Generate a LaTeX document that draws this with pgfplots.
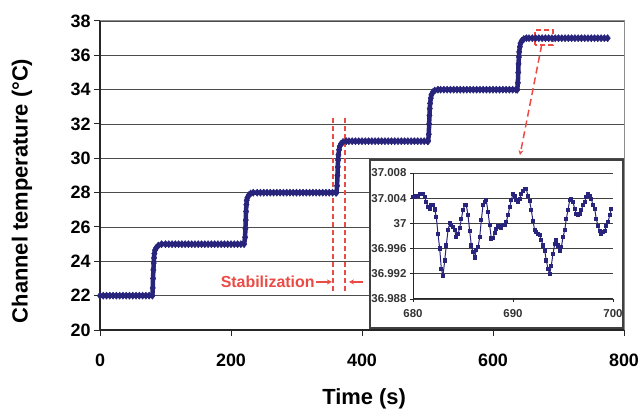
\documentclass[border=0pt]{standalone}
\usepackage{pgfplots}
\pgfplotsset{compat=1.18}
\usepackage{fontspec}
\setmainfont{Liberation Sans}
\usetikzlibrary{arrows.meta}
\definecolor{navy}{RGB}{40,36,124}
\definecolor{redc}{RGB}{235,75,68}
\begin{document}
\begin{tikzpicture}
\begin{axis}[
  at={(100bp,81bp)}, anchor=south west,
  scale only axis, width=524bp, height=309bp,
  xmin=0, xmax=800, ymin=20, ymax=38,
  xtick={0,200,400,600,800}, ytick={20,22,...,38},
  axis x line*=bottom, axis y line*=left,
  tick align=outside, major tick length=6bp,
  ymajorgrids, grid style={black!70, line width=0.9bp},
  tick style={black!85, line width=1bp},
  axis line style={black!85, line width=1.2bp},
  /pgf/number format/assume math mode=true,
  ticklabel style={font=\fontsize{18}{18}\selectfont\bfseries},
  xticklabel style={yshift=-14bp},
  xlabel={Time (s)}, ylabel={Channel temperature (°C)},
  xlabel style={at={(axis description cs:0.504,-0.223)}, anchor=center, font=\fontsize{22}{22}\selectfont\bfseries},
  ylabel style={at={(axis description cs:-0.149,0.45)}, anchor=center, font=\fontsize{22}{22}\selectfont\bfseries},
  clip=false,
]
\addplot[color=navy, line width=4.5bp, line join=round, mark=diamond*, mark size=3.6bp, mark options={solid, line width=0.5bp}] coordinates {
(0,22)(5,22)(10,22)(15,22)(20,22)(25,22)(30,22)(35,22)(40,22)(45,22)(50,22)(55,22)(60,22)(65,22)(70,22)(75,22)(80,22)
(80.5,22.45)(81,23.0)(81.5,23.5)(82,23.9)(82.5,24.2)(83,24.45)(84,24.65)(86,24.8)(89,24.92)(94,25)
(100,25)(105,25)(110,25)(115,25)(120,25)(125,25)(130,25)(135,25)(140,25)(145,25)(150,25)(155,25)(160,25)(165,25)(170,25)(175,25)(180,25)(185,25)(190,25)(195,25)(200,25)(205,25)(210,25)(215,25)(220,25)
(221.5,25.4)(222,25.9)(222.5,26.4)(223,26.9)(223.5,27.3)(224,27.55)(225,27.7)(227,27.85)(230,27.95)(234,28)
(240,28)(245,28)(250,28)(255,28)(260,28)(265,28)(270,28)(275,28)(280,28)(285,28)(290,28)(295,28)(300,28)(305,28)(310,28)(315,28)(320,28)(325,28)(330,28)(335,28)(340,28)(345,28)(350,28)(355,28)(360,28)(361,28)
(362,28.4)(362.5,29.0)(363,29.5)(363.5,29.9)(364,30.2)(365,30.5)(366,30.7)(368,30.85)(371,30.95)(376,31)
(380,31)(385,31)(390,31)(395,31)(400,31)(405,31)(410,31)(415,31)(420,31)(425,31)(430,31)(435,31)(440,31)(445,31)(450,31)(455,31)(460,31)(465,31)(470,31)(475,31)(480,31)(485,31)(490,31)(495,31)(500,31)(501,31)
(502,31.4)(502.5,32.0)(503,32.5)(503.5,32.9)(504,33.2)(505,33.5)(506,33.7)(508,33.85)(511,33.95)(516,34)
(520,34)(525,34)(530,34)(535,34)(540,34)(545,34)(550,34)(555,34)(560,34)(565,34)(570,34)(575,34)(580,34)(585,34)(590,34)(595,34)(600,34)(605,34)(610,34)(615,34)(620,34)(625,34)(630,34)(635,34)(637,34)
(638,34.4)(638.5,35.0)(639,35.5)(639.5,35.9)(640,36.2)(641,36.5)(642,36.7)(644,36.85)(647,36.95)(651,37)
(655,37)(660,37)(665,37)(670,37)(675,37)(680,37)(685,37)(690,37)(695,37)(700,37)(705,37)(710,37)(715,37)(720,37)(725,37)(730,37)(735,37)(740,37)(745,37)(750,37)(755,37)(760,37)(765,37)(770,37)(775,37)
};
\draw[black!45, line width=1bp] (axis cs:0,38) -- (axis cs:800,38) -- (axis cs:800,20);
% annotations
\draw[redc, line width=1.5bp, dash pattern=on 5bp off 3bp] (axis cs:356,32.35) -- (axis cs:356,22.16);
\draw[redc, line width=1.5bp, dash pattern=on 5bp off 3bp] (axis cs:374,32.35) -- (axis cs:374,22.16);
\node[anchor=east, text=redc, font=\fontsize{16}{16}\selectfont\bfseries, inner sep=0] at (axis cs:328,22.8) {Stabilization};
\draw[redc, line width=1.3bp, -{Stealth[length=5bp,width=5bp]}] (axis cs:330,22.8) -- (axis cs:354,22.8);
\draw[redc, line width=1.3bp, -{Stealth[length=5bp,width=5bp]}] (axis cs:401,22.8) -- (axis cs:380,22.8);
\draw[redc, line width=1.3bp, dash pattern=on 5bp off 3bp] (axis cs:664,36.6) rectangle (axis cs:691.6,37.48);
\draw[redc, line width=1.5bp, dash pattern=on 7bp off 4bp, -{Stealth[length=5bp,width=5bp]}] (axis cs:674.3,36.6) -- (axis cs:641.2,30.19);
\end{axis}
\draw[line width=1.5bp, draw=black!75, fill=white] (370bp,83bp) rectangle (623bp,251bp);
\begin{axis}[
  at={(413bp,112bp)}, anchor=south west,
  scale only axis, width=200bp, height=126bp,
  xmin=680, xmax=700, ymin=36.988, ymax=37.008,
  xtick={680,690,700}, xticklabels={680,690,700},
  ytick={36.988,36.992,36.996,37,37.004,37.008},
  yticklabels={36.988,36.992,36.996,37,37.004,37.008},
  axis x line*=bottom, axis y line*=left,
  tick align=outside, major tick length=3bp,
  ymajorgrids, grid style={black!75, line width=0.8bp},
  tick style={black!85, line width=0.8bp},
  axis line style={black!85, line width=1bp},
  /pgf/number format/assume math mode=true,
  ticklabel style={font=\fontsize{11.5}{11.5}\selectfont\bfseries, text=black!80},
  xticklabel style={yshift=-4bp},
  clip=false,
]
\addplot[color=navy, line width=1bp, mark=square*, mark size=1.6bp, mark options={solid}] coordinates {
(680.00,37.0042)(680.17,37.0042)(680.33,37.0043)(680.50,37.0044)(680.67,37.0047)(680.83,37.0047)
(681.00,37.0047)(681.17,37.0042)(681.33,37.0034)(681.50,37.0026)(681.67,37.0023)(681.83,37.0029)
(682.00,37.0029)(682.17,37.0022)(682.33,37.0010)(682.50,36.9983)(682.67,36.9960)(682.83,36.9928)
(683.00,36.9917)(683.17,36.9941)(683.33,36.9965)(683.50,36.9989)(683.67,37.0000)(683.83,36.9998)
(684.00,36.9994)(684.17,36.9989)(684.33,36.9978)(684.50,36.9983)(684.67,36.9993)(684.83,37.0007)
(685.00,37.0021)(685.17,37.0029)(685.33,37.0029)(685.50,37.0013)(685.67,36.9988)(685.83,36.9965)
(686.00,36.9954)(686.17,36.9946)(686.33,36.9958)(686.50,36.9962)(686.67,36.9978)(686.83,37.0005)
(687.00,37.0029)(687.17,37.0034)(687.33,37.0037)(687.50,37.0018)(687.67,36.9997)(687.83,36.9976)
(688.00,36.9977)(688.17,36.9985)(688.33,36.9991)(688.50,36.9995)(688.67,36.9995)(688.83,36.9993)
(689.00,36.9997)(689.17,36.9998)(689.33,37.0002)(689.50,37.0013)(689.67,37.0026)(689.83,37.0037)
(690.00,37.0047)(690.17,37.0044)(690.33,37.0037)(690.50,37.0034)(690.67,37.0039)(690.83,37.0047)
(691.00,37.0051)(691.17,37.0055)(691.33,37.0054)(691.50,37.0044)(691.67,37.0035)(691.83,37.0021)
(692.00,37.0004)(692.17,36.9989)(692.33,36.9986)(692.50,36.9983)(692.67,36.9981)(692.83,36.9974)
(693.00,36.9965)(693.17,36.9957)(693.33,36.9941)(693.50,36.9928)(693.67,36.9920)(693.83,36.9933)
(694.00,36.9952)(694.17,36.9967)(694.33,36.9973)(694.50,36.9965)(694.67,36.9957)(694.83,36.9962)
(695.00,36.9978)(695.17,36.9989)(695.33,37.0007)(695.50,37.0021)(695.67,37.0037)(695.83,37.0039)
(696.00,37.0034)(696.17,37.0023)(696.33,37.0015)(696.50,37.0013)(696.67,37.0015)(696.83,37.0021)
(697.00,37.0029)(697.17,37.0034)(697.33,37.0042)(697.50,37.0047)(697.67,37.0044)(697.83,37.0039)
(698.00,37.0029)(698.17,37.0023)(698.33,37.0007)(698.50,36.9996)(698.67,36.9988)(698.83,36.9984)
(699.00,36.9986)(699.17,36.9988)(699.33,36.9996)(699.50,37.0002)(699.67,37.0013)(699.83,37.0023)
};
\end{axis}
\pgfresetboundingbox
\useasboundingbox (0,0) rectangle (641bp,411bp);
\end{tikzpicture}
\end{document}
